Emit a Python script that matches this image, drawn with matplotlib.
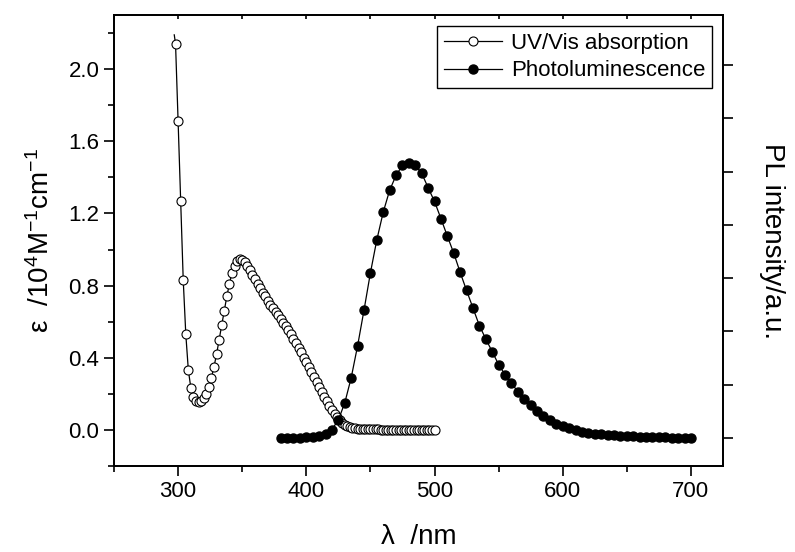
import numpy as np
import matplotlib
matplotlib.use("Agg")
import matplotlib.pyplot as plt
from matplotlib.ticker import MultipleLocator

plt.rcParams['font.family'] = ['Liberation Sans', 'DejaVu Sans']
plt.rcParams['mathtext.fontset'] = 'custom'
plt.rcParams['mathtext.rm'] = 'Liberation Sans'
plt.rcParams['mathtext.it'] = 'Liberation Sans:italic'

# UV/Vis absorption (epsilon, 10^4 M^-1 cm^-1)
uv_wl = [297] + list(range(298, 502, 2))
uv_eps = [2.19,
          2.14, 1.71, 1.27, 0.83, 0.53, 0.33, 0.23, 0.18, 0.16, 0.155,
          0.16, 0.175, 0.20, 0.24, 0.29, 0.35, 0.42, 0.50, 0.58, 0.66,
          0.74, 0.81, 0.87, 0.91, 0.935, 0.945, 0.94, 0.93, 0.91, 0.885,
          0.86, 0.835, 0.81, 0.785, 0.76, 0.74, 0.715, 0.695, 0.675, 0.655,
          0.635, 0.615, 0.595, 0.575, 0.555, 0.53, 0.505, 0.48, 0.455, 0.43,
          0.40, 0.375, 0.35, 0.32, 0.295, 0.265, 0.24, 0.21, 0.185, 0.16,
          0.135, 0.11, 0.09, 0.07, 0.055, 0.04, 0.03, 0.022, 0.016, 0.012,
          0.009, 0.007, 0.006, 0.005, 0.005, 0.004, 0.004, 0.003, 0.003, 0.003,
          0.002, 0.002, 0.002, 0.002, 0.001, 0.001, 0.001, 0.001, 0.001, 0.001,
          0.0, 0.0, 0.0, 0.0, 0.0, 0.0, 0.0, 0.0, 0.0, 0.0, 0.0, 0.0]

# Photoluminescence (a.u.)
pl_wl = list(range(380, 705, 5))
pl_int = [0.0, 0.0, 0.0, 0.005, 0.01, 0.02, 0.03, 0.07, 0.16, 0.34,
          0.66, 1.13, 1.73, 2.40, 3.10, 3.72, 4.24, 4.65, 4.93, 5.12,
          5.16, 5.12, 4.97, 4.70, 4.44, 4.12, 3.79, 3.47, 3.11, 2.77,
          2.44, 2.11, 1.86, 1.62, 1.38, 1.19, 1.03, 0.87, 0.74, 0.62,
          0.51, 0.42, 0.34, 0.27, 0.22, 0.18, 0.15, 0.12, 0.10, 0.08,
          0.07, 0.06, 0.05, 0.04, 0.035, 0.03, 0.025, 0.02, 0.015, 0.01,
          0.01, 0.005, 0.005, 0.0, 0.0]

fig = plt.figure(figsize=(7.95, 5.52), dpi=100)
ax = fig.add_axes([0.1434, 0.1558, 0.766, 0.8170])
ax2 = ax.twinx()

l1, = ax.plot(uv_wl, uv_eps, color='black', lw=0.9, marker='o', ms=6.5,
              mfc='white', mec='black', mew=0.8, markevery=slice(1, None),
              label='UV/Vis absorption')
l2, = ax2.plot(pl_wl, pl_int, color='black', lw=0.9, marker='o', ms=6.5,
               mfc='black', mec='black', label='Photoluminescence')

ax.set_xlim(250, 725)
ax.set_ylim(-0.2, 2.3)
ax2.set_ylim(-0.525, 7.94)

ax.xaxis.set_major_locator(MultipleLocator(100))
ax.xaxis.set_minor_locator(MultipleLocator(50))
ax.yaxis.set_major_locator(MultipleLocator(0.4))
ax.yaxis.set_minor_locator(MultipleLocator(0.2))
ax.yaxis.set_major_formatter(matplotlib.ticker.FormatStrFormatter('%.1f'))
ax2.yaxis.set_major_locator(MultipleLocator(1))
ax2.set_yticklabels([])

for a in (ax, ax2):
    for s in a.spines.values():
        s.set_linewidth(1.3)

ax.tick_params(axis='both', which='major', direction='out', length=7, width=1.2,
               labelsize=16, top=False)
ax.tick_params(axis='both', which='minor', direction='out', length=4, width=1.2)
ax.tick_params(axis='y', which='both', right=False)
ax2.tick_params(axis='y', which='major', direction='out', length=7, width=1.2, labelright=False)

# top ticks (inward)
secx = ax.secondary_xaxis('top')
secx.xaxis.set_major_locator(MultipleLocator(50))
secx.tick_params(direction='in', length=3, width=1.2, labeltop=False)
secx.spines['top'].set_visible(False)

ax.set_xlabel('λ  /nm', fontsize=20, labelpad=16)
ax.set_ylabel('ε  /10$^4$M$^{-1}$cm$^{-1}$', fontsize=20, labelpad=10)
ax2.set_ylabel('PL intensity/a.u.', fontsize=20, rotation=270, labelpad=38)

leg = ax.legend(handles=[l1, l2], loc='upper right', fontsize=16, frameon=True,
                fancybox=False, edgecolor='black', framealpha=1,
                handlelength=2.6, borderaxespad=0.5, borderpad=0.3,
                labelspacing=0.3, handletextpad=0.4)
leg.get_frame().set_linewidth(1.0)
leg.remove()
ax2.add_artist(leg)

fig.savefig('out.png', dpi=100)
